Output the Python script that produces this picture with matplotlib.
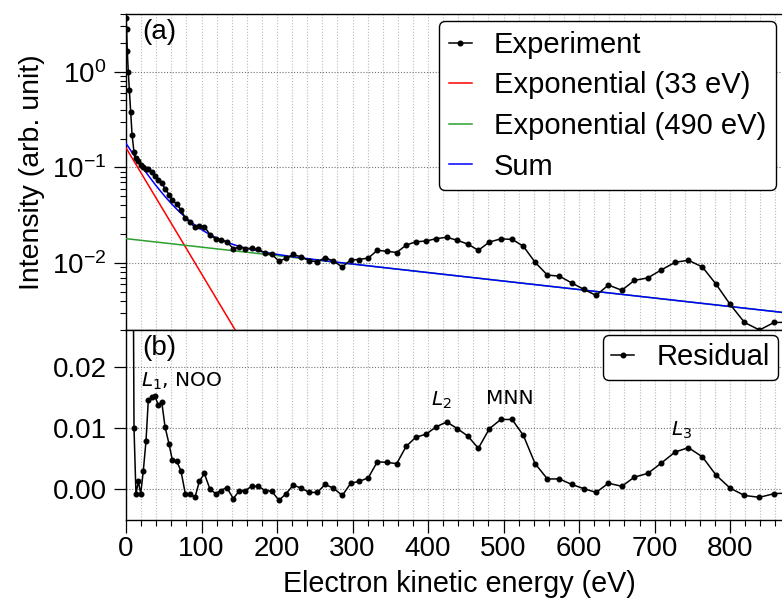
import numpy as np
import matplotlib
matplotlib.use("Agg")
import matplotlib.pyplot as plt
from matplotlib.ticker import MultipleLocator, LogLocator, NullFormatter

plt.rcParams['font.family'] = ['Liberation Sans', 'DejaVu Sans']
plt.rcParams['font.size'] = 20
plt.rcParams['mathtext.fontset'] = 'dejavusans'

# ---------------- data ----------------
energy = [0.0, 0.8, 1.7, 3.0, 4.4, 6.2, 8.0,
          10.6, 13.2, 16.3, 19.5, 22.9, 26.5, 29.5, 34.0, 38.4, 42.8,
          47.3, 51.7, 57.0, 61.3, 67.2, 72.8, 78.5, 84.8, 91.4, 97.1,
          103.7, 111.3, 118.8, 125.4, 133.4, 142.1, 149.7, 157.6, 166.5, 175.2,
          184.1, 193.0, 202.6, 211.9, 221.6, 231.8, 242.8, 253.4, 263.6, 274.6,
          286.5, 297.6, 309.0, 320.9, 332.8, 345.3, 358.5, 370.9, 383.7, 397.4,
          410.6, 424.8, 438.8, 452.6, 466.6, 481.2, 496.3, 511.3, 526.2, 541.7,
          558.0, 573.9, 590.3, 606.6, 622.5, 638.8, 656.6, 673.2, 691.0, 709.0,
          727.2, 744.8, 763.3, 781.5, 800.0, 819.0, 838.8, 858.3, 878.0]

experiment = [3.6, 2.8, 1.65, 1.0, 0.65, 0.38, 0.22,
              0.1437, 0.1240, 0.1164, 0.1052, 0.1001, 0.0966, 0.0969, 0.0889, 0.0818, 0.0739,
              0.0688, 0.0598, 0.0519, 0.0457, 0.0412, 0.0361, 0.0295, 0.0266, 0.0237, 0.0245,
              0.0241, 0.0198, 0.0178, 0.0173, 0.0168, 0.0141, 0.0147, 0.0142, 0.0143, 0.0139,
              0.0128, 0.0123, 0.0105, 0.0112, 0.0123, 0.0116, 0.0106, 0.0103, 0.0114, 0.0105,
              0.0091, 0.0108, 0.0109, 0.0113, 0.0136, 0.0133, 0.0129, 0.0154, 0.0167, 0.0170,
              0.0180, 0.0186, 0.0173, 0.0158, 0.0136, 0.0166, 0.0179, 0.0177, 0.0150, 0.0102,
              0.0075, 0.0073, 0.0062, 0.0053, 0.0046, 0.0059, 0.0052, 0.0066, 0.0070, 0.0085,
              0.0102, 0.0107, 0.0091, 0.0060, 0.0037, 0.0024, 0.0020, 0.0024, 0.0024]

residual = [3.422, 2.626, 1.480, 0.836, 0.492, 0.230, 0.077,
            0.0100, -0.0008, 0.0013, -0.0007, 0.0030, 0.0079, 0.0145, 0.0150, 0.0152, 0.0137,
            0.0143, 0.0102, 0.0074, 0.0048, 0.0046, 0.0030, -0.0007, -0.0008, -0.0013, 0.0013,
            0.0026, 0.0000, -0.0007, -0.0002, 0.0003, -0.0015, -0.0003, -0.0002, 0.0005, 0.0005,
            -0.0002, -0.0003, -0.0018, -0.0007, 0.0007, 0.0002, -0.0005, -0.0005, 0.0008, 0.0002,
            -0.0010, 0.0010, 0.0013, 0.0019, 0.0045, 0.0044, 0.0042, 0.0070, 0.0085, 0.0090,
            0.0102, 0.0110, 0.0099, 0.0087, 0.0067, 0.0099, 0.0114, 0.0114, 0.0088, 0.0042,
            0.0017, 0.0017, 0.0008, 0.0001, -0.0005, 0.0010, 0.0005, 0.0020, 0.0026, 0.0043,
            0.0061, 0.0068, 0.0053, 0.0023, 0.0002, -0.0010, -0.0013, -0.0007, -0.0006]

# fitted exponential components (amplitude, decay length in eV)
fast_amp, fast_decay = 0.16, 33.0
slow_amp, slow_decay = 0.018, 490.0

series_labels = ["Experiment", "Exponential (33 eV)", "Exponential (490 eV)", "Sum"]
residual_label = "Residual"
peak_labels = ["$L_1$, NOO", "$L_2$", "MNN", "$L_3$"]
peak_pos_e = [20, 417, 508, 736]
peak_pos_r = [0.0176, 0.0145, 0.0148, 0.0097]

# ---------------- figure ----------------
W, H = 782, 599
fig = plt.figure(figsize=(W / 100, H / 100), dpi=100)

def fx(px):
    return px / W

def fy(py):
    return 1 - py / H

left, right = 126, 783
ax1 = fig.add_axes([fx(left), fy(330), fx(right - left), fy(14) - fy(330)])
ax2 = fig.add_axes([fx(left), fy(520), fx(right - left), fy(330) - fy(520)], sharex=ax1)

e_fit = np.linspace(0, 880, 500)
fast = fast_amp * np.exp(-e_fit / fast_decay)
slow = slow_amp * np.exp(-e_fit / slow_decay)
total = fast + slow

ax1.plot(energy, experiment, '-o', color='black', lw=1.1, ms=3.3,
         label=series_labels[0], zorder=5)
ax1.plot(e_fit, fast, color='red', lw=1.1, label=series_labels[1], zorder=3)
ax1.plot(e_fit, slow, color='#2ca02c', lw=1.1, label=series_labels[2], zorder=3)
ax1.plot(e_fit, total, color='blue', lw=1.1, label=series_labels[3], zorder=4)
ax1.set_yscale('log')
ax1.set_ylim(0.002, 4.0)
ax1.set_xlim(0, 870)

ax2.plot(energy, residual, '-o', color='black', lw=1.1, ms=3.3,
         label=residual_label, zorder=5)
ax2.set_ylim(-0.005, 0.026)
ax2.yaxis.set_major_locator(MultipleLocator(0.01))
ax2.yaxis.set_major_formatter(matplotlib.ticker.FormatStrFormatter('%.2f'))

for ax in (ax1, ax2):
    ax.xaxis.set_major_locator(MultipleLocator(100))
    ax.xaxis.set_minor_locator(MultipleLocator(20))
    ax.grid(True, axis='x', which='both', linestyle=(0, (1, 1.6)),
            color='0.72', lw=0.8)
    ax.grid(True, axis='y', which='major', linestyle=(0, (1, 1.6)),
            color='0.45', lw=0.8)
    ax.set_axisbelow(True)
    for s in ax.spines.values():
        s.set_linewidth(1.0)
    ax.tick_params(which='major', direction='out', length=9, width=0.9)
    ax.tick_params(which='minor', direction='out', length=4.5, width=0.8)
    ax.tick_params(axis='y', which='both', pad=5)
    ax.tick_params(axis='x', which='both', pad=2.5)

ax1.yaxis.set_minor_locator(LogLocator(base=10, subs=np.arange(2, 10)))
ax1.yaxis.set_minor_formatter(NullFormatter())
ax1.tick_params(axis='x', which='both', length=0, labelbottom=False)
ax2.tick_params(axis='y', which='minor', length=0)

leg_kw = dict(fontsize=21, handlelength=0.79, handletextpad=0.75,
              framealpha=1, edgecolor='black')
leg1 = ax1.legend(loc='upper right', labelspacing=0.43, borderpad=0.33,
                  borderaxespad=0.25, **leg_kw)
leg1.get_frame().set_linewidth(1.0)
leg2 = ax2.legend(loc='upper right', borderpad=0.28, borderaxespad=0.18, **leg_kw)
leg2.get_frame().set_linewidth(1.0)

ax1.text(0.024, 0.985, "(a)", transform=ax1.transAxes, ha='left', va='top', fontsize=20)
ax2.text(0.024, 0.975, "(b)", transform=ax2.transAxes, ha='left', va='top', fontsize=20)

for lab, xe, yr in zip(peak_labels, peak_pos_e, peak_pos_r):
    ha = 'left' if xe < 100 else 'center'
    ax2.text(xe, yr, lab, ha=ha, va='center', fontsize=14.5,
             family=['DejaVu Sans'])

fig.text(fx(32), fy(172), "Intensity (arb. unit)", rotation=90,
         ha='center', va='center', fontsize=20.5)
fig.text(fx(459), fy(584), "Electron kinetic energy (eV)",
         ha='center', va='center', fontsize=20.7)

fig.savefig("out.png", dpi=100)
